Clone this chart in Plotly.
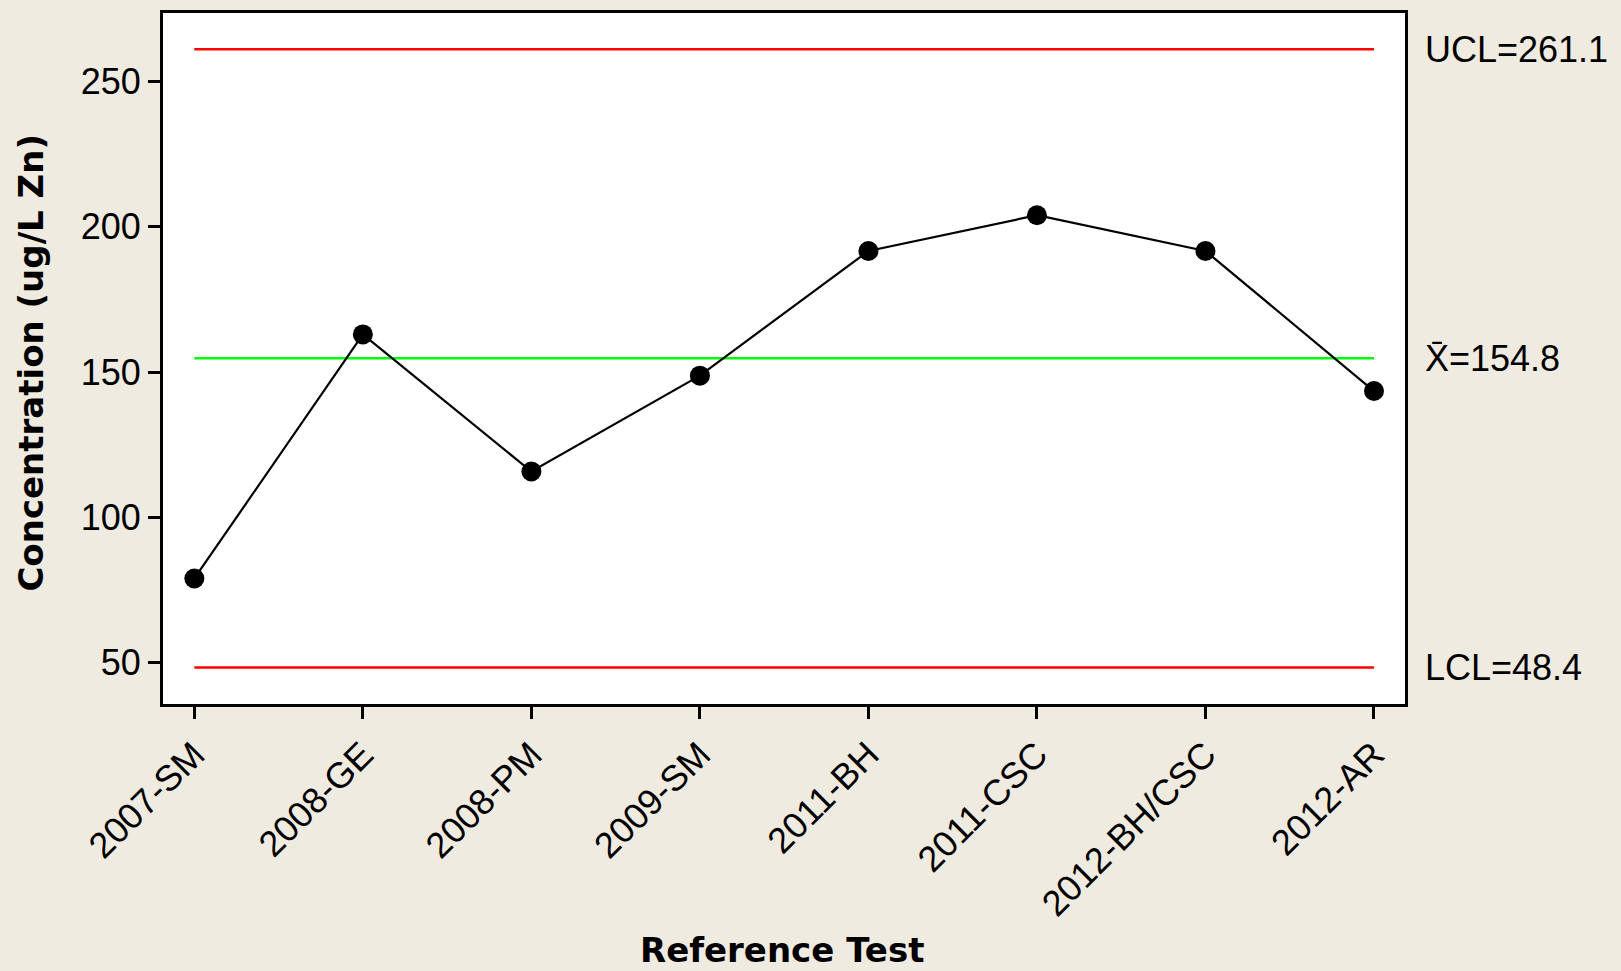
import plotly.graph_objects as go

categories = ["2007-SM", "2008-GE", "2008-PM", "2009-SM", "2011-BH", "2011-CSC", "2012-BH/CSC", "2012-AR"]
values = [79.0, 163.0, 115.8, 148.8, 191.7, 204.0, 191.7, 143.5]
ucl = 261.1
mean = 154.8
lcl = 48.4
y_ticks = [50, 100, 150, 200, 250]

BG = "#EFEBE1"
TICKFONT = "Liberation Sans, Arial, sans-serif"
TITLEFONT = "DejaVu Sans, Verdana, sans-serif"

xs = list(range(len(categories)))

fig = go.Figure()
fig.add_trace(go.Scatter(x=[xs[0], xs[-1]], y=[ucl, ucl], mode="lines",
                         line=dict(color="#FF0000", width=2.5), hoverinfo="skip"))
fig.add_trace(go.Scatter(x=[xs[0], xs[-1]], y=[mean, mean], mode="lines",
                         line=dict(color="#00FF00", width=2.5), hoverinfo="skip"))
fig.add_trace(go.Scatter(x=[xs[0], xs[-1]], y=[lcl, lcl], mode="lines",
                         line=dict(color="#FF0000", width=2.5), hoverinfo="skip"))
fig.add_trace(go.Scatter(x=xs, y=values, mode="lines+markers",
                         line=dict(color="black", width=2.2),
                         marker=dict(color="black", size=20)))

fig.update_layout(
    width=1621, height=971,
    paper_bgcolor=BG, plot_bgcolor="white",
    margin=dict(l=163, r=216, t=10, b=267),
    showlegend=False,
    font=dict(family=TICKFONT, size=36, color="black"),
)
fig.update_xaxes(
    range=[-0.186, 7.184], tickmode="array", tickvals=xs, ticktext=categories,
    tickangle=-45, ticks="outside", ticklen=12, tickwidth=3, tickcolor="black",
    showline=True, linewidth=3, linecolor="black", mirror=True,
    showgrid=False, zeroline=False, tickfont=dict(size=36),
)
fig.update_yaxes(
    range=[35.8, 273.6], tickmode="array", tickvals=y_ticks,
    ticks="outside", ticklen=12, tickwidth=3, tickcolor="black",
    showline=True, linewidth=3, linecolor="black", mirror=True,
    showgrid=False, zeroline=False, tickfont=dict(size=36),
)

fig.add_annotation(text="<b>Concentration (ug/L Zn)</b>", xref="paper", yref="paper",
                   x=-0.1063, y=0.494, textangle=-90, showarrow=False,
                   xanchor="center", yanchor="middle",
                   font=dict(family=TITLEFONT, size=34, color="black"))
fig.add_annotation(text="<b>Reference Test</b>", xref="paper", yref="paper",
                   x=0.498, y=-0.356, showarrow=False,
                   xanchor="center", yanchor="middle",
                   font=dict(family=TITLEFONT, size=34, color="black"))

for label, val in [("UCL=261.1", ucl), ("X\u0304=154.8", mean), ("LCL=48.4", lcl)]:
    fig.add_annotation(text=label, xref="paper", yref="y", x=1.0145, y=val,
                       showarrow=False, xanchor="left", yanchor="middle",
                       font=dict(family=TICKFONT, size=36, color="black"))

fig.write_html("out.html", config={"displayModeBar": False},
               post_script="document.body.style.margin='0px';document.body.style.overflow='hidden';")
